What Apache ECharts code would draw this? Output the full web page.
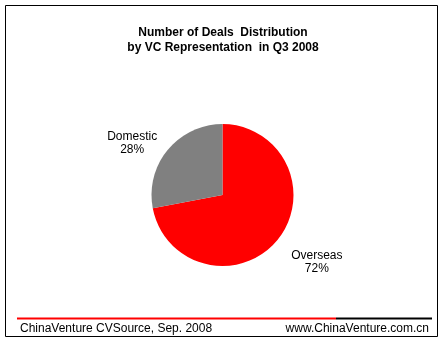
<!DOCTYPE html>
<html>
<head>
<meta charset="utf-8">
<script src="https://cdn.jsdelivr.net/npm/echarts@6/dist/echarts.min.js"></script>
<style>html,body{margin:0;padding:0;background:#fff;}#c{width:446px;height:341px;}</style>
</head>
<body>
<div id="c"></div>
<script>
var categories = ['Overseas', 'Domestic'];
var values = [72, 28];
var colors = ['#FF0000', '#808080'];
var titleLines = ['Number of Deals  Distribution', 'by VC Representation  in Q3 2008'];
var footerLeft = 'ChinaVenture CVSource, Sep. 2008';
var footerRight = 'www.ChinaVenture.com.cn';

var chart = echarts.init(document.getElementById('c'), null, {renderer: 'canvas'});
var data = categories.map(function (c, i) {
  return {name: c, value: values[i], itemStyle: {color: colors[i]}};
});
var labelShift = [[20, 18], [-16, -2.5]];
var font = 'Liberation Sans, Arial, sans-serif';
chart.setOption({
  backgroundColor: '#fff',
  animation: false,
  title: {
    text: titleLines.join('\n'),
    left: 'center',
    top: 20,
    textStyle: {fontFamily: font, fontSize: 12, fontWeight: 'bold', color: '#000', lineHeight: 15}
  },
  series: [{
    type: 'pie',
    center: [222.5, 195],
    radius: 71,
    startAngle: 90,
    clockwise: true,
    data: data,
    label: {
      show: true,
      position: 'outside',
      formatter: '{b}\n{d}%',
      fontFamily: font,
      fontSize: 12,
      color: '#000',
      lineHeight: 13,
      align: 'center'
    },
    labelLine: {show: false, length: 6, length2: 10},
    labelLayout: function (p) {
      var s = labelShift[p.dataIndex];
      return {align: 'center', dx: s[0], dy: s[1]};
    },
    emphasis: {disabled: true}
  }],
  graphic: [
    {type: 'rect', shape: {x: 5.5, y: 5.5, width: 432, height: 331}, style: {fill: 'none', stroke: '#000', lineWidth: 1}},
    {type: 'line', shape: {x1: 17, y1: 318.5, x2: 336, y2: 318.5}, style: {stroke: '#FF0000', lineWidth: 2}},
    {type: 'line', shape: {x1: 336, y1: 318.5, x2: 432, y2: 318.5}, style: {stroke: '#000', lineWidth: 2}},
    {type: 'text', left: 20, top: 323, style: {text: footerLeft, font: '12px ' + font, fill: '#000'}},
    {type: 'text', right: 17, top: 323, style: {text: footerRight, font: '12px ' + font, fill: '#000'}}
  ]
});
</script>
</body>
</html>
